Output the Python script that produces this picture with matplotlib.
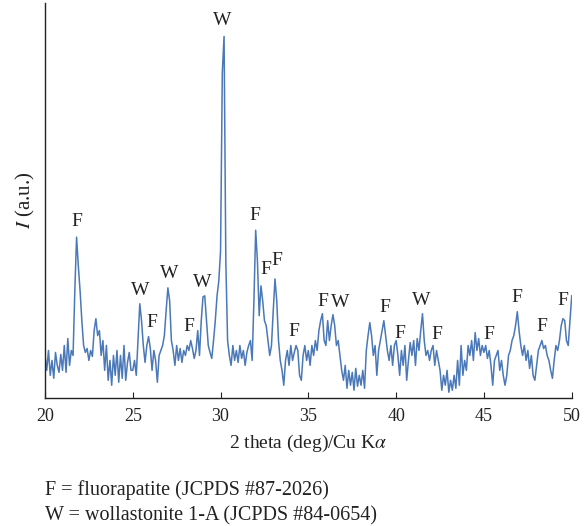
import numpy as np
import matplotlib
matplotlib.use("Agg")
import matplotlib.pyplot as plt

plt.rcParams["mathtext.fontset"] = "stix"

# XRD pattern, 2 theta from 20.0 to 50.0 deg in 0.1 deg steps (intensity, a.u.)
two_theta = np.round(np.arange(20.0, 50.05, 0.1), 1)
intensity = [
    45, 30, 50, 25, 40, 22, 48, 35, 28, 46,        # 20.x
    30, 55, 28, 62, 35, 50, 45, 110, 164, 135,     # 21.x
    110, 80, 55, 48, 52, 40, 50, 44, 70, 82,       # 22.x
    65, 70, 45, 60, 30, 55, 20, 40, 15, 45,        # 23.x
    25, 50, 18, 45, 22, 55, 20, 38, 48, 30,        # 24.x
    30, 40, 25, 60, 97, 80, 55, 38, 55, 64,        # 25.x
    52, 30, 50, 40, 18, 45, 50, 55, 65, 90,        # 26.x
    113, 100, 60, 50, 35, 55, 40, 52, 38, 50,      # 27.x
    45, 55, 50, 60, 52, 42, 50, 70, 45, 80,        # 28.x
    104, 105, 80, 55, 48, 42, 60, 80, 105, 120,    # 29.x
    150, 330, 366, 140, 60, 45, 35, 55, 40, 50,    # 30.x
    38, 55, 42, 50, 35, 48, 55, 60, 40, 100,       # 31.x
    171, 140, 85, 115, 100, 80, 75, 60, 45, 55,    # 32.x
    90, 122, 100, 60, 40, 30, 15, 40, 50, 35,      # 33.x
    55, 40, 48, 55, 50, 25, 20, 45, 55, 40,        # 34.x
    50, 35, 55, 45, 60, 50, 70, 80, 87, 60,        # 35.x
    55, 80, 60, 75, 86, 75, 55, 60, 45, 30,        # 36.x
    20, 35, 12, 30, 15, 28, 10, 32, 14, 25,        # 37.x
    15, 30, 12, 50, 65, 78, 65, 45, 55, 25,        # 38.x
    50, 60, 70, 80, 65, 50, 40, 55, 35, 55,        # 39.x
    60, 45, 25, 50, 35, 55, 20, 40, 58, 45,        # 40.x
    60, 35, 62, 50, 70, 87, 60, 45, 50, 40,        # 41.x
    50, 55, 35, 50, 40, 30, 10, 25, 15, 30,        # 42.x
    8, 20, 10, 25, 12, 40, 15, 55, 25, 40,         # 43.x
    30, 55, 45, 60, 40, 68, 50, 62, 45, 55,        # 44.x
    48, 55, 42, 50, 35, 15, 40, 45, 50, 30,        # 45.x
    40, 25, 15, 25, 45, 50, 60, 65, 75, 89,        # 46.x
    70, 55, 45, 55, 40, 50, 32, 45, 25, 20,        # 47.x
    35, 50, 55, 60, 52, 55, 45, 40, 30, 22,        # 48.x
    40, 55, 50, 60, 75, 82, 80, 60, 55, 80,        # 49.x
    105,                                           # 50.0
]

# phase labels: (text, 2 theta, height)
label_text = ["F", "W", "F", "W", "F", "W", "W", "F", "F", "F", "F", "F", "W",
              "F", "F", "W", "F", "F", "F", "F", "F"]
label_x = [21.82, 25.45, 26.1, 27.1, 28.2, 28.95, 30.1, 31.95, 32.55, 33.2, 34.2,
           35.8, 36.8, 39.35, 40.2, 41.45, 42.3, 45.3, 46.9, 48.3, 49.5]
label_y = [180, 110, 78, 127, 74, 118, 382, 186, 131, 141, 69,
           99, 98, 93, 67, 100, 66, 66, 103, 74, 100]

SERIF = ["Liberation Serif", "DejaVu Serif"]
LINE_COLOR = "#4a78b8"
TEXT_COLOR = "#222222"

fig = plt.figure(figsize=(5.84, 5.26), dpi=100)
ax = fig.add_axes([0.077, 0.243, 0.902, 0.752])

ax.plot(two_theta, intensity, color=LINE_COLOR, lw=1.1)

for t, x, y in zip(label_text, label_x, label_y):
    ax.text(x, y, t, ha="center", va="center", fontsize=14, family=SERIF,
            color=TEXT_COLOR)

ax.set_xlim(20, 50)
ax.set_ylim(2, 400)
ax.set_xticks(np.arange(20, 51, 5))
ax.set_yticks([])
ax.tick_params(axis="x", direction="in", length=4, labelsize=13, pad=7,
               colors=TEXT_COLOR)
for lab in ax.get_xticklabels():
    lab.set_family(SERIF)
ax.spines["top"].set_visible(False)
ax.spines["right"].set_visible(False)
for s in ("left", "bottom"):
    ax.spines[s].set_color(TEXT_COLOR)
    ax.spines[s].set_linewidth(1.0)

ax.set_xlabel(r"2 theta (deg)/Cu K$\alpha$", family=SERIF, fontsize=14,
              labelpad=6, color=TEXT_COLOR)
ax.set_ylabel(r"$I$ (a.u.)", family=SERIF, fontsize=15, labelpad=6,
              color=TEXT_COLOR)

fig.text(0.077, 0.068, "F = fluorapatite (JCPDS #87-2026)", family=SERIF,
         fontsize=14.5, va="center", color=TEXT_COLOR)
fig.text(0.077, 0.019, "W = wollastonite 1-A (JCPDS #84-0654)", family=SERIF,
         fontsize=14.5, va="center", color=TEXT_COLOR)

fig.savefig("out.png", dpi=100)
